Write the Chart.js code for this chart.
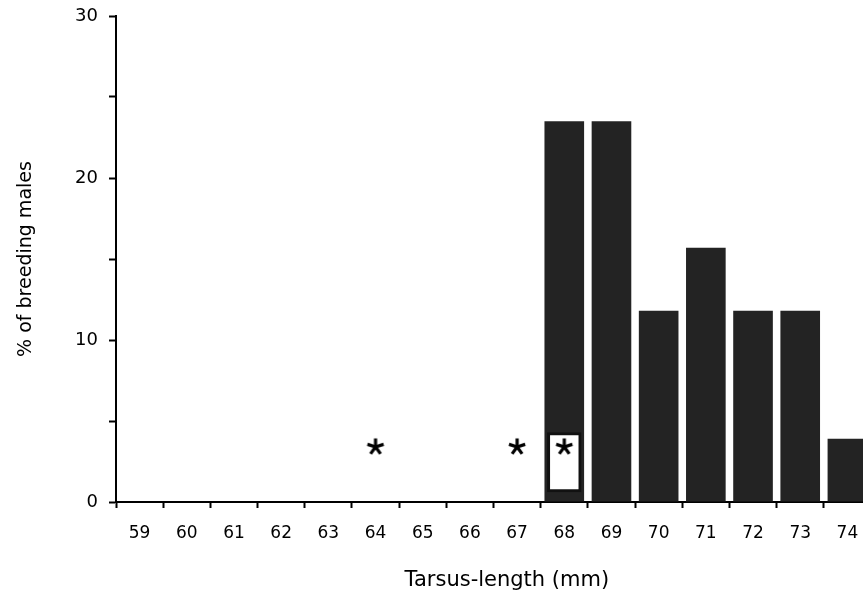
<!DOCTYPE html>
<html>
<head>
<meta charset="utf-8">
<script src="https://cdn.jsdelivr.net/npm/chart.js@4.4.0/dist/chart.umd.min.js"></script>
<style>
  html, body { margin: 0; padding: 0; background: #fff; overflow: hidden; }
  #wrap { width: 863px; height: 596px; overflow: hidden; position: relative; }
  #chart { position: absolute; left: 0; top: 0; }
</style>
</head>
<body>
<div id="wrap"><canvas id="chart" width="882" height="596"></canvas></div>
<script>
// tarsus length classes (mm)
var tarsusLength = ["59","60","61","62","63","64","65","66","67","68","69","70","71","72","73","74"];
// % of breeding males per class
var breedingMales = [0,0,0,0,0,0,0,0,0,23.5,23.5,11.8,15.7,11.8,11.8,3.9];
// open box inside the 68 bar (low, high)
var openBox = [null,null,null,null,null,null,null,null,null,[0.6,4.3],null,null,null,null,null,null];
// asterisk markers
var asterisks = [null,null,null,null,null,3.4,null,null,3.4,3.4,null,null,null,null,null,null];
var yTicks = [0, 10, 20, 30];

var fontFamily = "'DejaVu Sans', 'Liberation Sans', Arial, sans-serif";

// asterisk glyph used as point style
function makeAsterisk(){
    var c = document.createElement('canvas');
    c.width = 22; c.height = 22;
    var g = c.getContext('2d');
    g.strokeStyle = '#000';
    g.lineWidth = 3.2;
    var cx = 11, cy = 11, r = 8.5;
    for (var i = 0; i < 5; i++) {
        var a = -Math.PI / 2 + i * 2 * Math.PI / 5;
        g.beginPath();
        g.moveTo(cx, cy);
        g.lineTo(cx + r * Math.cos(a), cy + r * Math.sin(a));
        g.stroke();
    }
    return c;
}

// fixed axis sizes, no extra label padding around the plot
function noPad(scale){
    scale.paddingTop = 0;
    scale.paddingBottom = 0;
    scale.paddingLeft = 0;
    scale.paddingRight = 0;
}

new Chart(document.getElementById('chart'), {
    type: 'bar',
    data: {
        labels: tarsusLength,
        datasets: [
            {
                type: 'line',
                data: asterisks,
                showLine: false,
                pointStyle: makeAsterisk(),
                pointRadius: 10,
                order: -1
            },
            {
                data: openBox,
                backgroundColor: '#ffffff',
                borderColor: '#111111',
                borderWidth: 3,
                borderSkipped: false,
                barPercentage: 0.73,
                categoryPercentage: 1,
                order: 0
            },
            {
                label: "% of breeding males",
                data: breedingMales,
                backgroundColor: '#232323',
                barPercentage: 0.84,
                categoryPercentage: 1,
                order: 1
            }
        ]
    },
    options: {
        responsive: false,
        animation: false,
        layout: { padding: { top: 16, left: 0, right: 0, bottom: 0 } },
        plugins: {
            legend: { display: false },
            tooltip: { enabled: false }
        },
        scales: {
            x: {
                stacked: true,
                offset: true,
                grid: { offset: true, drawOnChartArea: false, drawTicks: true, tickLength: 6, tickWidth: 2, color: '#000' },
                border: { display: true, color: '#000', width: 2 },
                ticks: { color: '#000', font: { family: fontFamily, size: 17 }, padding: 15, maxRotation: 0, autoSkip: false },
                title: { display: true, text: '    Tarsus-length (mm)', color: '#000', font: { family: fontFamily, size: 21 }, padding: { top: 0, bottom: 3 } },
                afterFit: function(scale){ scale.height = 94; noPad(scale); }
            },
            y: {
                stacked: false,
                min: 0,
                max: 30,
                grid: { drawOnChartArea: false, drawTicks: true, tickLength: 7, tickWidth: 2, color: '#000' },
                border: { display: true, color: '#000', width: 2 },
                ticks: {
                    stepSize: 5,
                    color: '#000',
                    font: { family: fontFamily, size: 18 },
                    padding: 11,
                    callback: function(v){ return yTicks.indexOf(v) >= 0 ? v : ''; }
                },
                title: { display: true, text: '% of breeding males', color: '#000', font: { family: fontFamily, size: 19 }, padding: { top: 15, bottom: 0 } },
                afterFit: function(scale){ scale.width = 116; noPad(scale); }
            }
        }
    }
});
</script>
</body>
</html>
